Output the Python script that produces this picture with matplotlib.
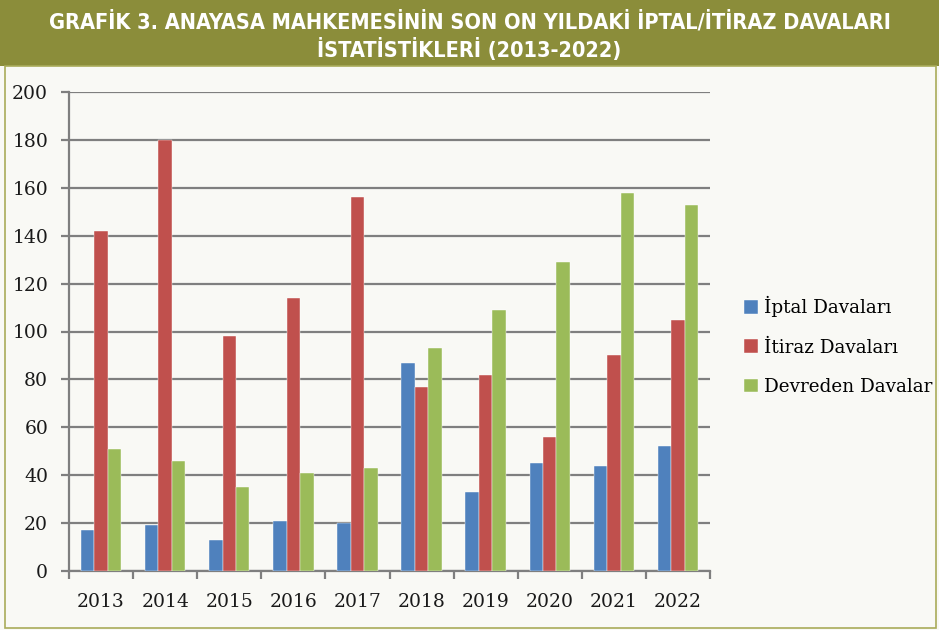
import matplotlib
matplotlib.use("Agg")
import matplotlib.pyplot as plt
from matplotlib.patches import Rectangle
import numpy as np

years = ["2013", "2014", "2015", "2016", "2017", "2018", "2019", "2020", "2021", "2022"]
iptal = [17, 19, 13, 21, 20, 87, 33, 45, 44, 52]
itiraz = [142, 180, 98, 114, 156, 77, 82, 56, 90, 105]
devreden = [51, 46, 35, 41, 43, 93, 109, 129, 158, 153]
series_names = ["İptal Davaları", "İtiraz Davaları", "Devreden Davalar"]
colors = ["#4f81bd", "#c0504d", "#9bbb59"]
title_lines = ["GRAFİK 3. ANAYASA MAHKEMESİNİN SON ON YILDAKİ İPTAL/İTİRAZ DAVALARI",
               "İSTATİSTİKLERİ (2013-2022)"]

W, H = 939, 630
fig = plt.figure(figsize=(W / 100, H / 100), dpi=100)
fig.patch.set_facecolor("#f9f9f5")

olive = "#8b8d3a"
# banner
fig.patches.append(Rectangle((0, 1 - 66 / H), 1, 66 / H, transform=fig.transFigure,
                             facecolor=olive, edgecolor="none", zorder=0))
# border around chart
fig.patches.append(Rectangle((5 / W, 2 / H), 931 / W, (H - 66 - 2) / H, transform=fig.transFigure,
                             facecolor="none", edgecolor="#a9ab5a", linewidth=1.2, zorder=0))

tfont = dict(family="DejaVu Sans", weight="bold", stretch="condensed", color="white", fontsize=15.6)
fig.text(0.5, 1 - 22 / H, title_lines[0], ha="center", va="center", **tfont)
fig.text(0.5, 1 - 49 / H, title_lines[1], ha="center", va="center", **tfont)

ax = fig.add_axes([69 / W, (H - 571) / H, (710 - 69) / W, (571 - 92) / H])
ax.set_facecolor("#f9f9f5")
x = np.arange(len(years))
bw = 0.21
for i, (vals, c, n) in enumerate(zip([iptal, itiraz, devreden], colors, series_names)):
    ax.bar(x + (i - 1) * bw, vals, width=bw, color=c, label=n, zorder=3,
           edgecolor="white", linewidth=0.3)

ax.set_xlim(-0.5, len(years) - 0.5)
ax.set_ylim(0, 200)
ax.set_yticks(range(0, 201, 20))
ax.yaxis.grid(True, color="#7f7f7f", linewidth=1.6, zorder=0)
ax.set_axisbelow(True)
for s in ["top", "right"]:
    ax.spines[s].set_visible(False)
for s in ["left", "bottom"]:
    ax.spines[s].set_color("#7f7f7f")
    ax.spines[s].set_linewidth(1.6)

ax.set_xticks(np.arange(-0.5, len(years), 1))
ax.set_xticklabels([])
ax.set_xticks(x, minor=True)
ax.set_xticklabels(years, minor=True)
ax.tick_params(axis="x", which="major", length=6, width=1.6, color="#7f7f7f", direction="out")
ax.tick_params(axis="x", which="minor", length=0, pad=16, labelsize=13.5)
ax.tick_params(axis="y", length=6, width=1.6, color="#7f7f7f", labelsize=13.5, pad=9)
for lab in ax.get_xticklabels(minor=True) + ax.get_yticklabels():
    lab.set_family("DejaVu Serif")
    lab.set_color("#1a1a1a")

leg = ax.legend(loc="center left", frameon=False, prop=dict(family="DejaVu Serif", size=13.2),
                handlelength=0.75, handleheight=0.75, handletextpad=0.35, labelspacing=1.15,
                borderaxespad=0, borderpad=0)
leg.set_bbox_to_anchor((744 / W, 1 - 346 / H), transform=fig.transFigure)

fig.savefig("out.png", dpi=100, facecolor=fig.get_facecolor())
